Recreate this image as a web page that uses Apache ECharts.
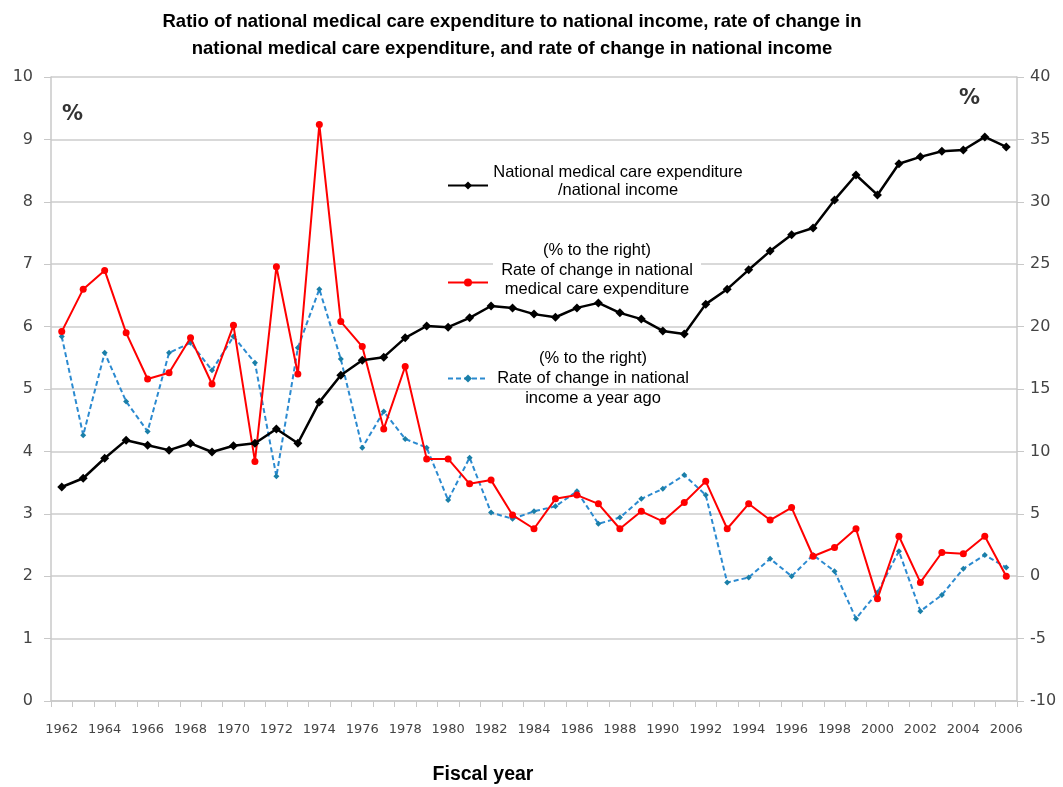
<!DOCTYPE html>
<html>
<head>
<meta charset="utf-8">
<script src="https://cdn.jsdelivr.net/npm/echarts@6/dist/echarts.min.js"></script>
<style>
html,body{margin:0;padding:0;background:#fff;}
#chart{width:1063px;height:787px;}
</style>
</head>
<body>
<div id="chart"></div>
<script>
// fiscal years
var years = [];
for (var y = 1962; y <= 2006; y++) years.push(String(y));

// national medical care expenditure / national income (%), left axis
var ratioData = [3.43,3.57,3.89,4.18,4.10,4.02,4.13,3.99,4.09,4.13,
                 4.36,4.13,4.79,5.22,5.46,5.51,5.82,6.01,5.99,6.14,
                 6.33,6.30,6.20,6.15,6.30,6.38,6.22,6.12,5.93,5.88,
                 6.36,6.60,6.91,7.21,7.47,7.58,8.03,8.43,8.11,8.61,
                 8.72,8.81,8.83,9.04,8.88];
// rate of change in national medical care expenditure (%), right axis
var medChange = [19.6,23.0,24.5,19.5,15.8,16.3,19.1,15.4,20.1,9.2,
                 24.8,16.2,36.2,20.4,18.4,11.8,16.8,9.4,9.4,7.4,
                 7.7,4.9,3.8,6.2,6.5,5.8,3.8,5.2,4.4,5.9,
                 7.6,3.8,5.8,4.5,5.5,1.6,2.3,3.8,-1.8,3.2,
                 -0.5,1.9,1.8,3.2,0.0];
// rate of change in national income a year ago (%), right axis
var incomeChange = [19.2,11.3,17.9,14.0,11.6,17.9,18.7,16.5,19.2,17.1,
                    8.0,18.3,23.0,17.4,10.3,13.2,11.0,10.3,6.1,9.5,
                    5.1,4.6,5.2,5.6,6.8,4.2,4.7,6.2,7.0,8.1,
                    6.5,-0.5,-0.1,1.4,0.0,1.7,0.4,-3.4,-1.3,2.0,
                    -2.8,-1.5,0.6,1.7,0.7];

var legendText = {
    ratio: ['National medical care expenditure', '/national income'],
    med: ['(% to the right)', 'Rate of change in national', 'medical care expenditure'],
    income: ['(% to the right)', 'Rate of change in national', 'income a year ago']
};

// one legend per series, placed by hand like the original
function makeLegend(name, top, boxW, lineH, extra) {
    return {
        data: [name],
        left: 442,
        top: top,
        itemWidth: 40,
        itemHeight: 10,
        itemGap: 0,
        selectedMode: false,
        formatter: function (n) {
            var s = legendText[n].map(function (t) { return '{a|' + t + '}'; }).join('\n');
            if (extra) s += '\n{e| }';//push the icon down a bit
            return s;
        },
        textStyle: {
            rich: {
                a: {
                    fontFamily: 'Liberation Sans, Arial',
                    fontSize: 16.5,
                    color: '#000',
                    width: boxW,
                    align: 'center',
                    lineHeight: lineH,
                    backgroundColor: '#fff'
                },
                e: { fontSize: 1, lineHeight: extra || 1 }
            }
        }
    };
}

var myChart = echarts.init(document.getElementById('chart'));
var axisFont = 'DejaVu Sans, Verdana';

var option = {
    animation: false,
    backgroundColor: '#fff',
    title: {
        text: 'Ratio of national medical care expenditure to national income, rate of change in\nnational medical care expenditure, and rate of change in national income',
        left: 507,
        textAlign: 'center',
        top: 3,
        textStyle: {
            fontFamily: 'Liberation Sans, Arial',
            fontSize: 18.5,
            fontWeight: 'bold',
            lineHeight: 27,
            color: '#000'
        }
    },
    legend: [
        makeLegend('ratio', 159, 250, 18, 8),
        makeLegend('med', 237, 208, 19.5, 25),
        makeLegend('income', 345, 200, 20, 0)
    ],
    grid: { left: 51, right: 46, top: 77, bottom: 86 },
    xAxis: {
        type: 'category',
        data: years,
        boundaryGap: true,
        axisLine: { lineStyle: { color: '#c8c8c8', width: 1.5 } },
        axisTick: { show: true, interval: 0, length: 6, lineStyle: { color: '#c8c8c8' } },
        axisLabel: {
            interval: 1,
            margin: 22,
            fontFamily: axisFont,
            fontSize: 13,
            color: '#444'
        },
        splitLine: { show: false }
    },
    yAxis: [
        {
            type: 'value',
            min: 0, max: 10, interval: 1,
            axisLine: { show: true, lineStyle: { color: '#c8c8c8', width: 1.5 } },
            axisTick: { show: true, length: 7, lineStyle: { color: '#c8c8c8' } },
            axisLabel: { fontFamily: axisFont, fontSize: 16, color: '#444', margin: 18 },
            splitLine: { lineStyle: { color: '#d9d9d9', width: 2 } }
        },
        {
            type: 'value',
            min: -10, max: 40, interval: 5,
            axisLine: { show: true, lineStyle: { color: '#c8c8c8', width: 1.5 } },
            axisTick: { show: true, length: 7, lineStyle: { color: '#c8c8c8' } },
            axisLabel: { fontFamily: axisFont, fontSize: 16, color: '#444', margin: 13 },
            splitLine: { show: false }
        }
    ],
    graphic: [
        { type: 'text', left: 62, top: 104, style: { text: '%', font: 'bold 21px DejaVu Sans', fill: '#333' } },
        { type: 'text', left: 959, top: 88, style: { text: '%', font: 'bold 21px DejaVu Sans', fill: '#333' } },
        { type: 'text', x: 483, y: 775, style: { text: 'Fiscal year', font: 'bold 19.5px Liberation Sans', fill: '#000', align: 'center', verticalAlign: 'middle' } }
    ],
    series: [
        {
            name: 'ratio',
            type: 'line',
            yAxisIndex: 0,
            data: ratioData,
            symbol: 'diamond',
            symbolSize: 9,
            z: 4,
            itemStyle: { color: '#000' },
            lineStyle: { color: '#000', width: 2.5 }
        },
        {
            name: 'med',
            type: 'line',
            yAxisIndex: 1,
            data: medChange,
            symbol: 'circle',
            symbolSize: 7,
            z: 3,
            itemStyle: { color: '#ff0000' },
            lineStyle: { color: '#ff0000', width: 2 }
        },
        {
            name: 'income',
            type: 'line',
            yAxisIndex: 1,
            data: incomeChange,
            symbol: 'diamond',
            symbolSize: 6,
            z: 2,
            itemStyle: { color: '#1a7fa8' },
            lineStyle: { color: '#2b8ad0', width: 2, type: [5, 3] }
        }
    ]
};
myChart.setOption(option);
</script>
</body>
</html>
